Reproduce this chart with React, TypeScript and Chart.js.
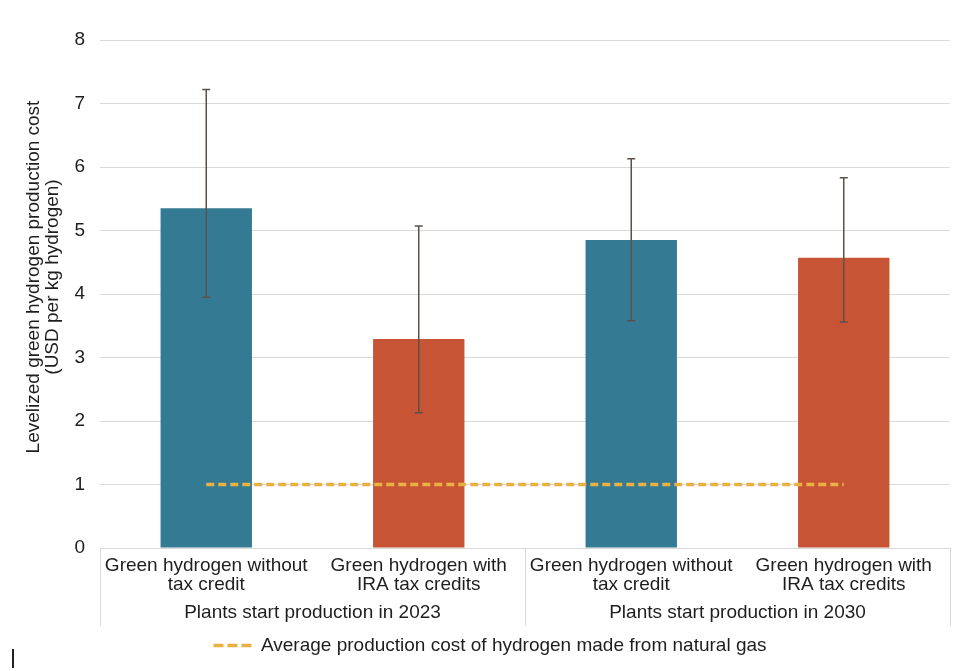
import React, { useEffect, useRef } from 'react';
import { Chart, registerables } from 'chart.js';

Chart.register(...registerables);

const categories: string[][] = [
  ['Green hydrogen without', 'tax credit'],
  ['Green hydrogen with', 'IRA tax credits'],
  ['Green hydrogen without', 'tax credit'],
  ['Green hydrogen with', 'IRA tax credits'],
];
const groups: string[] = ['Plants start production in 2023', 'Plants start production in 2030'];
const costValues: number[] = [5.35, 3.29, 4.85, 4.57];
const errorLow: number[] = [3.95, 2.13, 3.58, 3.56];
const errorHigh: number[] = [7.22, 5.07, 6.13, 5.83];
const naturalGasCost: number[] = [1, 1, 1, 1];
const yMin = 0;
const yMax = 8;
const yStep = 1;
const yTitle: string[] = ['Levelized green hydrogen production cost', '(USD per kg hydrogen)'];
const legendLabel = 'Average production cost of hydrogen made from natural gas';
const barLabel = 'Levelized cost';

const TEAL = '#347A92';
const RED = '#C85436';
const GOLD = '#E9B042';
const GRID = '#d9d9d9';
const TEXT = '#1e1e1e';
const FONT = '"Liberation Sans", Arial, Helvetica, sans-serif';
const DASH = [8, 4];
const LEGEND_DASH = [10, 4];

const errorBarsPlugin = {
  id: 'errorBars',
  afterDatasetsDraw(chart: any) {
    const meta = chart.getDatasetMeta(1);
    const y = chart.scales.y;
    const ctx = chart.ctx;
    ctx.save();
    ctx.strokeStyle = '#5b504b';
    ctx.lineWidth = 1.5;
    meta.data.forEach((bar: any, i: number) => {
      const x = bar.x;
      const top = y.getPixelForValue(errorHigh[i]);
      const bot = y.getPixelForValue(errorLow[i]);
      ctx.beginPath();
      ctx.moveTo(x, top);
      ctx.lineTo(x, bot);
      ctx.moveTo(x - 4, top);
      ctx.lineTo(x + 4, top);
      ctx.moveTo(x - 4, bot);
      ctx.lineTo(x + 4, bot);
      ctx.stroke();
    });
    ctx.restore();
  },
};

const frameAndTitlePlugin = {
  id: 'frameAndTitle',
  afterDraw(chart: any) {
    const ctx = chart.ctx;
    const x = chart.scales.x;
    const x2 = chart.scales.x2;
    const area = chart.chartArea;
    ctx.save();
    ctx.strokeStyle = GRID;
    ctx.lineWidth = 1;
    const mid = (x.getPixelForValue(1) + x.getPixelForValue(2)) / 2;
    const bottom = x2.bottom;
    [area.left, mid, area.right].forEach((px: number) => {
      const p = Math.round(px) + 0.5;
      ctx.beginPath();
      ctx.moveTo(p, area.bottom);
      ctx.lineTo(p, bottom);
      ctx.stroke();
    });
    // y axis title
    const cy = (area.top + area.bottom) / 2 - 17;
    ctx.fillStyle = TEXT;
    ctx.font = `19px ${FONT}`;
    ctx.textAlign = 'center';
    ctx.textBaseline = 'middle';
    ctx.translate(0, cy);
    ctx.rotate(-Math.PI / 2);
    ctx.fillText(yTitle[0], 0, 34);
    ctx.fillText(yTitle[1], 0, 53);
    ctx.restore();
  },
};

export default function App() {
  const ref = useRef<HTMLCanvasElement | null>(null);

  useEffect(() => {
    document.body.style.margin = '0';
    if (!ref.current) return;
    const defaultLabels = (Chart.defaults as any).plugins.legend.labels.generateLabels;
    const chart = new Chart(ref.current, {
      type: 'bar',
      data: {
        labels: categories as any,
        datasets: [
          {
            type: 'line' as any,
            label: legendLabel,
            data: naturalGasCost,
            borderColor: GOLD,
            backgroundColor: GOLD,
            borderWidth: 3.5,
            borderDash: DASH,
            pointRadius: 0,
            fill: false,
            order: 0,
          } as any,
          {
            type: 'bar',
            label: barLabel,
            data: costValues,
            backgroundColor: [TEAL, RED, TEAL, RED],
            barPercentage: 0.43,
            categoryPercentage: 1,
            order: 1,
          } as any,
        ],
      },
      options: {
        animation: false,
        responsive: false,
        maintainAspectRatio: false,
        layout: { padding: { left: 30, right: 30, top: 40, bottom: 6 } },
        plugins: {
          tooltip: { enabled: false },
          legend: {
            position: 'bottom',
            labels: {
              filter: (item: any) => item.text === legendLabel,
              generateLabels: (c: any) =>
                defaultLabels(c).map((it: any) => ({
                  ...it,
                  lineDash: LEGEND_DASH,
                  lineWidth: 3.5,
                  strokeStyle: GOLD,
                })),
              usePointStyle: true,
              pointStyle: 'line',
              pointStyleWidth: 38,
              boxWidth: 38,
              boxHeight: 3,
              color: TEXT,
              font: { family: FONT, size: 19 },
              padding: 10,
            },
          },
        },
        scales: {
          x: {
            type: 'category',
            offset: true,
            grid: { display: false, drawTicks: false },
            border: { display: false },
            ticks: {
              color: TEXT,
              font: { family: FONT, size: 19, lineHeight: 1.0 },
              padding: 8,
              maxRotation: 0,
              autoSkip: false,
            },
            afterFit: (s: any) => { s.height = 53; },
          },
          x2: {
            type: 'category',
            labels: groups,
            position: 'bottom',
            offset: true,
            weight: 1,
            grid: { display: false, drawTicks: false },
            border: { display: false },
            ticks: {
              color: TEXT,
              font: { family: FONT, size: 19 },
              padding: 0,
              maxRotation: 0,
              autoSkip: false,
            },
            afterFit: (s: any) => { s.height = 25; },
          },
          y: {
            min: yMin,
            max: yMax,
            ticks: {
              stepSize: yStep,
              color: TEXT,
              font: { family: FONT, size: 19 },
              padding: 15,
            },
            grid: { color: GRID, drawTicks: false, lineWidth: 1 },
            border: { display: false },
            afterFit: (s: any) => { s.width = 70; },
          },
        },
      },
      plugins: [errorBarsPlugin, frameAndTitlePlugin],
    });
    return () => chart.destroy();
  }, []);

  return (
    <div style={{ position: 'relative', width: 980, height: 671, background: '#fff' }}>
      <canvas ref={ref} width={980} height={671} style={{ display: 'block' }} />
      <div style={{ position: 'absolute', left: 12, top: 649, width: 2, height: 19, background: '#222' }} />
    </div>
  );
}
